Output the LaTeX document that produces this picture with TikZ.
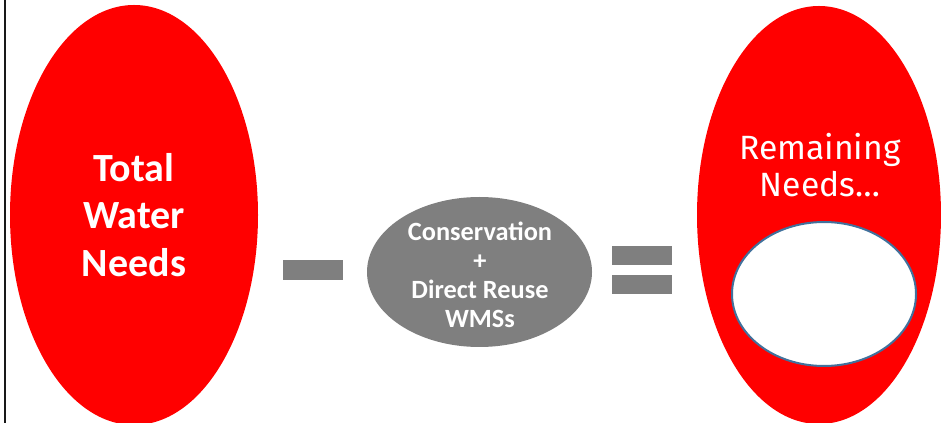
\documentclass[tikz,border=0pt]{standalone}
\usepackage{fontspec}
\usetikzlibrary{shapes.geometric}
\setmainfont{Carlito}
\newfontfamily\remfont{Fira Sans}
\definecolor{needred}{HTML}{FF0000}
\definecolor{wmsgray}{HTML}{7F7F7F}
\definecolor{holeblue}{HTML}{41719C}
\begin{document}
\begin{tikzpicture}[x=0.75pt,y=-0.75pt]
        \tikzset{need node/.style={ellipse, fill=needred, draw=none, inner sep=0pt},
                 bar node/.style={rectangle, fill=wmsgray, draw=none, inner sep=0pt, minimum width=45pt},
                 big text/.style={text=white, align=center, font=\bfseries\fontsize{30}{35.5}\selectfont}}
        \useasboundingbox (0,0) rectangle (941,423);
        \draw[line width=1.5pt, black!90] (5,0) -- (5,423);
        \node[need node, minimum width=186pt, minimum height=315pt] (total) at (134,215) {};
        \node[big text] (totaltext) at (total.center) {Total\\Water\\Needs};
        \node[bar node, minimum height=15pt] (minus) at (313,270) {};
        \node[ellipse, fill=wmsgray, inner sep=0pt, minimum width=168.75pt, minimum height=112.5pt] (wms) at (479.5,272) {};
        \node[text=white, align=center, font=\bfseries\fontsize{19.75}{21.75}\selectfont] (wmstext) at (480,274.5) {Conservation\\+\\Direct Reuse\\WMSs};
        \node[bar node, minimum height=14.25pt] (eqtop) at (642,255.5) {};
        \node[bar node, minimum height=14.25pt] (eqbot) at (642,284.5) {};
        \node[need node, minimum width=183pt, minimum height=313.5pt] (remain) at (819,215) {};
        \node[text=white, align=center, font=\remfont\fontsize{25.25}{27.75}\selectfont] (remaintext) at (820,165.5) {Remaining\\Needs\ldots};
        \node[ellipse, fill=white, draw=holeblue, line width=1.5pt, inner sep=0pt, minimum width=138pt, minimum height=108pt] (hole) at (824,294) {};
      \end{tikzpicture}
\end{document}
